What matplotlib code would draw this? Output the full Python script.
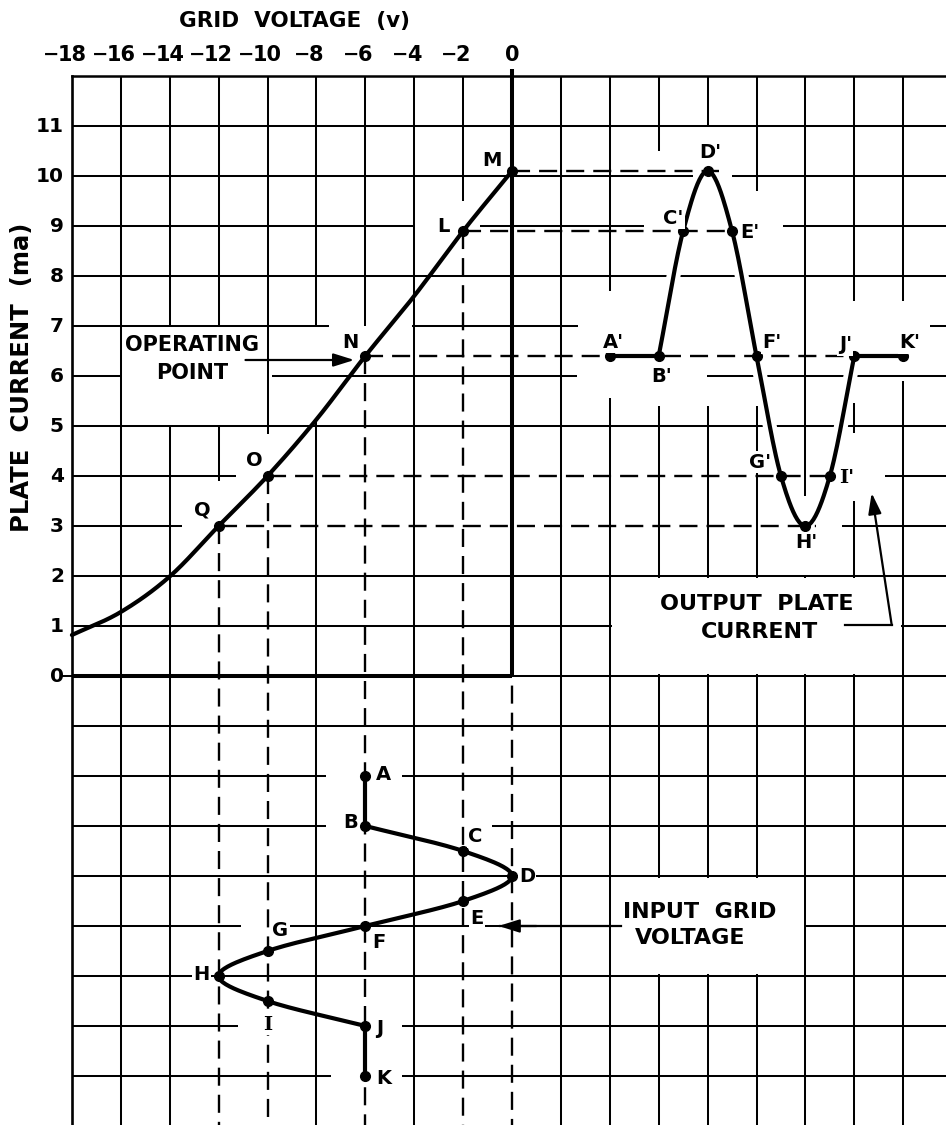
import numpy as np
import matplotlib.pyplot as plt

plt.rcParams['font.family'] = ['DejaVu Sans']
plt.rcParams['font.weight'] = 'bold'
plt.rcParams['lines.scale_dashes'] = False

# tube characteristic: plate current (ma) vs grid voltage (v)
grid_v = [-18, -16, -14, -12, -10, -8, -6, -4, -2, 0]
plate_ma = [0.82, 1.28, 1.99, 3.0, 4.0, 5.13, 6.4, 7.6, 8.9, 10.1]

# lettered points on the characteristic
char_names = ['Q', 'O', 'N', 'L', 'M']
char_v = [-12, -10, -6, -2, 0]
char_ma = [3.0, 4.0, 6.4, 8.9, 10.1]

# input grid voltage (time runs downwards)
in_names = ['A', 'B', 'C', 'D', 'E', 'F', 'G', 'H', 'I', 'J', 'K']
in_v = [-6, -6, -2, 0, -2, -6, -10, -12, -10, -6, -6]
in_t = [-2, -3, -3.5, -4, -4.5, -5, -5.5, -6, -6.5, -7, -8]

# output plate current (time runs to the right)
out_names = ["A'", "B'", "C'", "D'", "E'", "F'", "G'", "H'", "I'", "J'", "K'"]
out_t = [4, 6, 7, 8, 9, 10, 11, 12, 13, 14, 16]
out_ma = [6.4, 6.4, 8.9, 10.1, 8.9, 6.4, 4.0, 3.0, 4.0, 6.4, 6.4]

top_ticks = [-18, -16, -14, -12, -10, -8, -6, -4, -2, 0]
left_ticks = [0, 1, 2, 3, 4, 5, 6, 7, 8, 9, 10, 11]

# label offsets in pixels from their point
offs = {'M': (-20, 11), 'L': (-20, 5), 'N': (-15, 14), 'O': (-13, 16), 'Q': (-16, 16),
        'A': (18, 1), 'B': (-15, 3), 'C': (12, 14), 'D': (15, 0), 'E': (14, -17),
        'F': (14, -16), 'G': (13, 21), 'H': (-17, 1), 'I': (0, -24), 'J': (14, -2),
        'K': (18, -2),
        "A'": (4, 14), "B'": (3, -21), "C'": (-10, 13), "D'": (3, 18), "E'": (18, -2),
        "F'": (15, 13), "G'": (-21, 14), "H'": (1, -17), "I'": (17, -2), "J'": (-9, 11),
        "K'": (7, 13)}

# breaks in the printed grid (paste-up white-outs)
v_gaps = {-14: [(5, 7)], -12: [(5, 7)], -8: [(5.1, 7.0)], 4: [(5.56, 7.7)],
          6: [(5.4, 10.5)], 8: [(5.4, 11.0)], 10: [(5.4, 9.7)], 12: [(2.0, 3.6)],
          14: [(3.5, 4.86), (5.46, 7.5)], 16: [(5.9, 7.5)]}
h_gaps = {10: [(7.4, 9.0)], 9: [(-4.05, -1.3), (5.4, 11.1)], 7: [(-7.5, -4.1), (2.7, 17.1)],
          6: [(-16, -9.8), (2.65, 7.96)], -2: [(-7.6, -4.5)], -3: [(-7.6, -0.8)],
          -5: [(-11.1, -9.8), (4, 12)], -7: [(-11.2, -4.5)], -8: [(-7.4, -4.5)]}


def smooth(xs, ys, n=24):
    # catmull-rom through the read points
    p = np.column_stack([xs, ys]).astype(float)
    p = np.vstack([2 * p[0] - p[1], p, 2 * p[-1] - p[-2]])
    s = np.linspace(0, 1, n, endpoint=False)[:, None]
    segs = []
    for i in range(1, len(p) - 2):
        p0, p1, p2, p3 = p[i - 1], p[i], p[i + 1], p[i + 2]
        segs.append(0.5 * (2 * p1 + (p2 - p0) * s + (2 * p0 - 5 * p1 + 4 * p2 - p3) * s ** 2
                           + (3 * p1 - p0 - 3 * p2 + p3) * s ** 3))
    segs.append(p[-2][None, :])
    out = np.vstack(segs)
    return out[:, 0], out[:, 1]


def spans(a, b, gaps):
    # pieces of [a, b] left after cutting out the gaps
    out = []
    lo, hi = min(a, b), max(a, b)
    for g0, g1 in sorted(gaps):
        if g1 <= lo or g0 >= hi:
            continue
        if g0 > lo:
            out.append((lo, g0))
        lo = max(lo, g1)
    if lo < hi:
        out.append((lo, hi))
    return out


fig = plt.figure(figsize=(9.46, 11.25), dpi=100)
ax = fig.add_axes([0, 0, 1, 1])
x0, x1 = -512 / 24.45, 434 / 24.45
y0, y1 = -449 / 50, 676 / 50
ax.set_xlim(x0, x1)
ax.set_ylim(y0, y1)
ax.axis('off')

gkw = dict(color='black', lw=1.45, zorder=1, solid_capstyle='butt')
dkw = dict(color='black', lw=1.7, zorder=2, linestyle=(0, (13, 6.5)))

# vertical grid lines
solid_stop = {-12: 3.9, -10: 4.85, -6: 7.0, -2: 9.5}
for v in range(-16, 18, 2):
    if v == 0:
        continue
    for a, b in spans(solid_stop.get(v, y0), 12, v_gaps.get(v, [])):
        ax.plot([v, v], [a, b], **gkw)
ax.plot([-18, -18], [12, y0], color='black', lw=1.9, zorder=2)

# horizontal grid lines
for i in range(-8, 12):
    if i in (0, 3, 4):
        continue
    for a, b in spans(-18, x1, h_gaps.get(i, [])):
        ax.plot([a, b], [i, i], **gkw)
ax.plot([-18, x1], [12, 12], color='black', lw=1.8, zorder=1)
ax.plot([0, x1], [0, 0], **gkw)
ax.plot([-18, -13.5], [3, 3], **gkw)
ax.plot([13.5, x1], [3, 3], **gkw)
ax.plot([-18, -11.3], [4, 4], **gkw)
ax.plot([15.25, x1], [4, 4], **gkw)

# axes of the characteristic
ax.plot([-18, 0], [0, 0], color='black', lw=2.9, zorder=2.5, solid_capstyle='butt')
ax.plot([0, 0], [0, 12.15], color='black', lw=2.9, zorder=2.5, solid_capstyle='butt')
ax.plot([-18.35, -18], [0, 0], color='black', lw=1.4, zorder=2)

# label boxes cut out of the grid
for a, b, c, d in [(-16, -10, 5, 7), (4, 16, 0, 2), (4, 12, -6, -4)]:
    ax.add_patch(plt.Rectangle((a + 0.07, c + 0.04), b - a - 0.14, d - c - 0.08,
                               facecolor='white', edgecolor='none', zorder=1.5))

# projection lines
for k, (v, i) in enumerate(zip(char_v, char_ma)):
    ax.plot([v, v], [max(i, 0) if v == 0 else i, y0], **dkw)
    ends = [t for t, m in zip(out_t, out_ma) if m == i]
    extra = 0.45 if k in (0, 4) else 0.0
    ax.plot([v, max(ends) + extra], [i, i], **dkw)

# curves
cx, cy = smooth(grid_v, plate_ma)
ax.plot(cx, cy, color='black', lw=3.0, zorder=3, solid_capstyle='round')

ix, iy = smooth(in_v[1:10], in_t[1:10])
ax.plot(ix, iy, color='black', lw=3.0, zorder=3, solid_capstyle='round')
ax.plot(in_v[0:2], in_t[0:2], color='black', lw=3.0, zorder=3)
ax.plot(in_v[9:], in_t[9:], color='black', lw=3.0, zorder=3)

ox, oy = smooth(out_t[1:10], out_ma[1:10])
ax.plot(ox, oy, color='white', lw=10, zorder=1.6, solid_capstyle='round')
ax.plot(ox, oy, color='black', lw=3.0, zorder=3, solid_capstyle='round')
ax.plot(out_t[0:2], out_ma[0:2], color='black', lw=3.0, zorder=3)
ax.plot(out_t[9:], out_ma[9:], color='black', lw=3.0, zorder=3)

# dots and letters
lab = dict(fontsize=14, ha='center', va='center', zorder=5, textcoords='offset pixels',
           bbox=dict(facecolor='white', edgecolor='none', pad=1.0))
for names, xs, ys in [(char_names, char_v, char_ma), (in_names, in_v, in_t),
                      (out_names, out_t, out_ma)]:
    ax.plot(xs, ys, 'o', color='black', ms=7, zorder=4)
    for nm, x, y in zip(names, xs, ys):
        fam = 'DejaVu Serif' if nm.startswith('I') else 'DejaVu Sans'
        ax.annotate(nm, (x, y), xytext=offs[nm], family=fam, **lab)

# tick labels (digits centred on the line, minus hung to the left)
for v in top_ticks:
    ax.annotate(str(abs(v)), (v, 12.42), ha='center', va='center', fontsize=15)
    if v < 0:
        w = 0.696 * 15 * len(str(abs(v))) / 2 - 1.2
        ax.annotate('\u2212', (v, 12.42), xytext=(-w, 0.5), textcoords='offset points',
                    ha='right', va='center', fontsize=14)
for i in left_ticks:
    ax.annotate(str(i), (-18, i), xytext=(-8, 0), textcoords='offset pixels',
                ha='right', va='center', fontsize=14.5)

ax.text(-8.9, 13.1, 'GRID  VOLTAGE  (v)', ha='center', va='center', fontsize=15.5)
ax.text(-20.05, 5.97, 'PLATE  CURRENT  (ma)', ha='center', va='center', fontsize=17.5,
        rotation=90)

# callouts
ax.text(-13.1, 6.62, 'OPERATING', ha='center', va='center', fontsize=15, zorder=5)
ax.text(-13.06, 6.06, 'POINT', ha='center', va='center', fontsize=15, zorder=5)
akw = dict(arrowstyle='-|>,head_length=0.7,head_width=0.22', color='black', lw=1.6,
           mutation_scale=18, shrinkA=0, shrinkB=0)
ax.annotate('', xy=(-6.45, 6.32), xytext=(-10.9, 6.32), arrowprops=akw, zorder=5)

ax.text(10.0, 1.45, 'OUTPUT  PLATE', ha='center', va='center', fontsize=16, zorder=5)
ax.text(10.14, 0.89, 'CURRENT', ha='center', va='center', fontsize=16, zorder=5)
ax.plot([13.62, 15.53], [1.02, 1.02], color='black', lw=1.6, zorder=5)
ax.annotate('', xy=(14.71, 3.66), xytext=(15.53, 1.02), arrowprops=akw, zorder=5)

ax.text(4.55, -4.71, 'INPUT  GRID', ha='left', va='center', fontsize=16, zorder=5)
ax.text(5.03, -5.24, 'VOLTAGE', ha='left', va='center', fontsize=16, zorder=5)
ax.plot([-0.5, 4.45], [-5.0, -5.0], color='black', lw=1.6, zorder=5)
ax.annotate('', xy=(-0.55, -5.0), xytext=(1.0, -5.0), arrowprops=akw, zorder=5)

fig.savefig('out.png', dpi=100, facecolor='white')
